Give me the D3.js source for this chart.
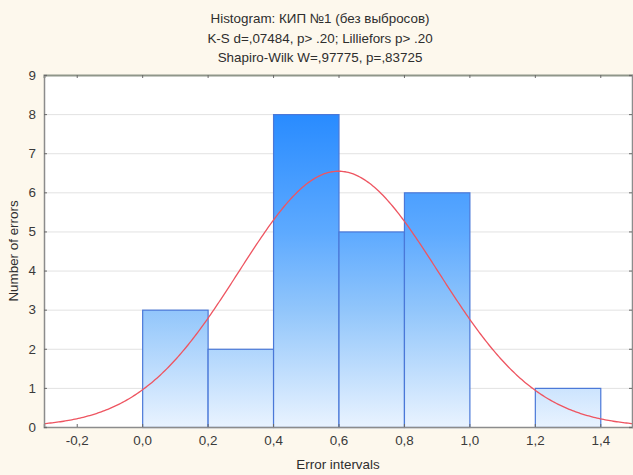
<!DOCTYPE html>
<html>
<head>
<meta charset="utf-8">
<script src="https://cdn.jsdelivr.net/npm/d3@7"></script>
<style>
  html, body { margin: 0; padding: 0; background: #fdf8ed; }
  svg { display: block; font-family: "Liberation Sans", Arial, sans-serif; }
</style>
</head>
<body>
<svg id="chart" width="633" height="475"></svg>
<script>
// Histogram bins (left edge, right edge) and counts
const binStarts = [0.0, 0.2, 0.4, 0.6, 0.8, 1.2];
const binEnds   = [0.2, 0.4, 0.6, 0.8, 1.0, 1.4];
const counts    = [3, 2, 8, 5, 6, 1];

// Axis ticks
const xTicks = [-0.2, 0.0, 0.2, 0.4, 0.6, 0.8, 1.0, 1.2, 1.4];
const yTicks = [0, 1, 2, 3, 4, 5, 6, 7, 8, 9];

// Fitted normal curve parameters
const fitMean = 0.6;
const fitSd = 0.305;
const binWidth = 0.2;

const titleLines = [
  "Histogram: КИП №1 (без выбросов)",
  "K-S d=,07484, p> .20; Lilliefors p> .20",
  "Shapiro-Wilk W=,97775, p=,83725"
];

const svg = d3.select("#chart");
const W = 633, H = 475;
const m = { left: 44, right: 0, top: 75, bottom: 48 };
const fontSize = "13.4px";

const x = d3.scaleLinear().domain([-0.3, 1.5]).range([m.left, W - m.right]);
const y = d3.scaleLinear().domain([0, 9]).range([H - m.bottom, m.top]);

// Plot background
svg.append("rect")
  .attr("x", x(-0.3)).attr("y", y(9))
  .attr("width", x(1.5) - x(-0.3)).attr("height", y(0) - y(9))
  .attr("fill", "#ffffff");

// Horizontal grid
svg.append("g").selectAll("line").data(yTicks.slice(1, -1)).join("line")
  .attr("x1", x(-0.3)).attr("x2", x(1.5))
  .attr("y1", d => y(d) + 0.5).attr("y2", d => y(d) + 0.5)
  .attr("stroke", "#e2e2e2").attr("stroke-width", 1);

// Vertical gradient shared by all bars, spanning the plot height
const defs = svg.append("defs");
const grad = defs.append("linearGradient")
  .attr("id", "barFill")
  .attr("gradientUnits", "userSpaceOnUse")
  .attr("x1", 0).attr("x2", 0)
  .attr("y1", y(9)).attr("y2", y(0));
[[0, "#1580ff"], [0.12, "#2a8cff"], [0.45, "#5eaaff"], [0.67, "#92c6fb"], [1, "#e9f3ff"]]
  .forEach(([o, c]) => grad.append("stop").attr("offset", o).attr("stop-color", c));

const bins = counts.map((c, i) => ({ x0: binStarts[i], x1: binEnds[i], n: c }));

svg.append("g").selectAll("rect").data(bins).join("rect")
  .attr("x", d => x(d.x0) + 0.5)
  .attr("y", d => y(d.n) + 0.5)
  .attr("width", d => x(d.x1) - x(d.x0))
  .attr("height", d => y(0) - y(d.n))
  .attr("fill", "url(#barFill)")
  .attr("stroke", "#4a78d8")
  .attr("stroke-width", 1.2);

// Expected normal counts
const total = d3.sum(counts);
const normCount = v => total * binWidth / (fitSd * Math.sqrt(2 * Math.PI)) *
  Math.exp(-0.5 * Math.pow((v - fitMean) / fitSd, 2));
const curvePts = d3.range(0, 361).map(i => -0.3 + i * 1.8 / 360);
const line = d3.line().x(v => x(v)).y(v => y(normCount(v))).curve(d3.curveLinear);
svg.append("path")
  .attr("d", line(curvePts))
  .attr("fill", "none")
  .attr("stroke", "#ee5561")
  .attr("stroke-width", 1.3);

// Axes frame
const frame = "#8c8c8c";
const xAxis = d3.axisBottom(x).tickValues(xTicks).tickSize(-3).tickPadding(8)
  .tickFormat(d => d3.format(".1f")(d).replace(".", ",").replace("−", "-"));
const gx = svg.append("g").attr("transform", `translate(0,${y(0)})`).call(xAxis);
const gxTop = svg.append("g").attr("transform", `translate(0,${y(9)})`)
  .call(d3.axisTop(x).tickValues(xTicks).tickSize(-3).tickFormat(""));
const yAxis = d3.axisLeft(y).tickValues(yTicks).tickSize(-3).tickPadding(8);
const gy = svg.append("g").attr("transform", `translate(${x(-0.3)},0)`).call(yAxis);
const gyR = svg.append("g").attr("transform", `translate(${x(1.5) - 1},0)`)
  .call(d3.axisRight(y).tickValues(yTicks).tickSize(-3).tickFormat(""));

[gx, gxTop, gy, gyR].forEach(g => {
  g.select(".domain").attr("stroke", frame).attr("stroke-width", 1.5);
  g.selectAll(".tick line").attr("stroke", "#6a6a6a");
  g.selectAll("text").attr("fill", "#3a3a3a").style("font-size", fontSize)
    .style("font-family", "'Liberation Sans', Arial, sans-serif");
});
gxTop.select(".domain").attr("stroke", "#8f968a").attr("stroke-width", 2);

// Titles
svg.append("g").selectAll("text").data(titleLines).join("text")
  .attr("x", 320).attr("y", (d, i) => 23 + i * 19.5)
  .attr("text-anchor", "middle")
  .attr("fill", "#2e2e2e")
  .style("font-size", fontSize)
  .text(d => d);

svg.append("text")
  .attr("x", 338).attr("y", 469)
  .attr("text-anchor", "middle")
  .attr("fill", "#2e2e2e")
  .style("font-size", fontSize)
  .text("Error intervals");

svg.append("text")
  .attr("transform", `translate(18,${(y(0) + y(9)) / 2}) rotate(-90)`)
  .attr("text-anchor", "middle")
  .attr("fill", "#2e2e2e")
  .style("font-size", fontSize)
  .text("Number of errors");
</script>
</body>
</html>
